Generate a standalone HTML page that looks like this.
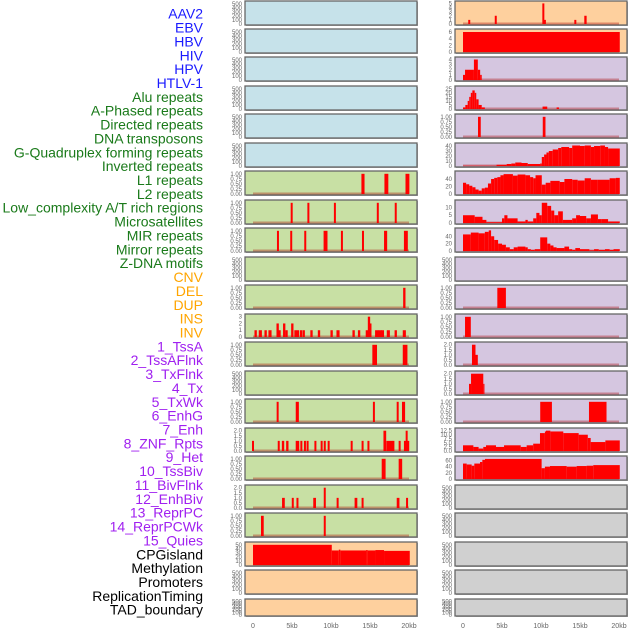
<!DOCTYPE html>
<html><head><meta charset="utf-8">
<style>
html,body{margin:0;padding:0;background:#fff;}
svg{display:block;font-family:"Liberation Sans",sans-serif;}
</style></head>
<body>
<svg id="chart" width="630" height="630" viewBox="0 0 630 630" xmlns="http://www.w3.org/2000/svg"></svg>
<script>
// ---------- data ----------
const rowLabels = ["AAV2","EBV","HBV","HIV","HPV","HTLV-1","Alu repeats","A-Phased repeats","Directed repeats","DNA transposons","G-Quadruplex forming repeats","Inverted repeats","L1 repeats","L2 repeats","Low_complexity A/T rich regions","Microsatellites","MIR repeats","Mirror repeats","Z-DNA motifs","CNV","DEL","DUP","INS","INV","1_TssA","2_TssAFlnk","3_TxFlnk","4_Tx","5_TxWk","6_EnhG","7_Enh","8_ZNF_Rpts","9_Het","10_TssBiv","11_BivFlnk","12_EnhBiv","13_ReprPC","14_ReprPCWk","15_Quies","CPGisland","Methylation","Promoters","ReplicationTiming","TAD_boundary"];
const labelGroups = [6,13,5,15,5]; // virus, repeats, sv, chromatin, other
const groupColors = ["#1a1aff","#1a7a1a","#ffa500","#a020f0","#000000"];
const xTickKb = [0,5,10,15,20];
const xTickLabels = ["0","5kb","10kb","15kb","20kb"];

// spikes: [centerKb, widthKb, value]
const leftL1 = [[14.1,0.4,1],[17.1,0.5,1],[19.8,0.5,1]];
const leftRow8 = [[4.96,0.25,1],[7.1,0.25,1],[10.5,0.25,1],[16.0,0.25,1],[18.3,0.25,1]];
const leftRow9 = [[3.2,0.25,1],[4.9,0.25,1],[6.7,0.25,1],[9.3,0.5,1],[11.4,0.25,1],[14.1,0.25,1],[17.0,0.4,1],[19.6,0.5,1]];
const leftRow11 = [[19.4,0.3,1]];
const leftRow12 = [[0.34,0.3,1],[0.94,0.4,1],[1.62,0.3,1],[2.18,0.4,1],[3.16,0.3,2],[3.4,0.3,1],[4.0,0.3,2],[4.3,0.3,1],[5.04,0.3,2],[5.6,0.6,1],[6.15,0.3,1],[6.5,0.3,1],[7.5,0.3,1],[8.46,0.3,1],[10.08,0.3,1],[10.9,0.4,1],[12.9,0.3,1],[13.6,0.3,1],[14.87,0.3,3],[15.04,0.3,2],[14.6,0.3,1],[15.9,0.5,1],[16.3,0.4,1],[16.6,0.4,1],[17.35,0.4,1],[18.3,0.3,1],[19.4,0.4,1]];
const leftRow13 = [[15.6,0.6,1],[19.5,0.6,1]];
const leftRow15 = [[3.16,0.25,1],[5.68,0.4,1],[15.5,0.25,1],[18.55,0.25,1],[19.3,0.4,1]];
const leftRow16 = [[0.0,0.25,1],[3.3,0.25,1],[3.85,0.3,1],[4.4,0.3,1],[5.7,0.45,1],[6.2,0.25,1],[6.66,0.25,1],[7.0,0.25,1],[8.0,0.25,1],[8.8,0.25,1],[9.2,0.25,1],[9.7,0.25,1],[12.65,0.25,1],[14.05,0.25,1],[14.8,0.25,1],[16.9,0.35,2],[17.3,0.4,1],[17.7,0.4,1],[18.0,0.25,1],[18.8,0.25,1],[19.5,0.3,1],[19.7,0.25,2],[19.9,0.25,1]];
const leftRow17 = [[16.75,0.5,1],[18.9,0.45,1]];
const leftRow18 = [[3.9,0.35,1],[5.1,0.25,1],[5.7,0.25,1],[7.9,0.35,1],[9.2,0.25,2],[10.85,0.25,1],[13.2,0.35,1],[14.05,0.25,1],[18.6,0.35,1],[19.75,0.25,1]];
const leftRow19 = [[1.2,0.35,1],[9.2,0.25,1]];
const rightAAV2 = [[0.8,0.25,1],[4.2,0.25,2],[10.3,0.25,5],[10.5,0.25,1],[14.4,0.25,1],[15.7,0.3,2]];
const rightHPV = [[2.1,0.35,1],[10.4,0.35,1]];

// segments: [startKb, endKb, value]
const leftCPG = [[0,10.1,50],[10.1,11.0,36],[11.0,11.2,38],[11.2,14.5,36],[14.5,14.7,37],[14.7,15.7,36],[15.7,16.8,37],[16.8,20.1,35]];
const rightEBV = [[0,20.1,6]];
const rightHBV = [[0,0.26,1],[0.26,1.4,2],[1.4,1.9,4],[1.9,2.2,2],[2.2,2.4,1]];
const rightHIV = [[0,0.3,2],[0.3,0.6,5],[0.6,0.8,10],[0.8,1.0,15],[1.0,1.2,20],[1.2,1.5,23],[1.5,1.7,20],[1.7,2.0,12],[2.0,2.4,5],[2.4,2.8,2],[10.2,10.8,3],[12.0,12.3,2]];
const rightHTLV = [[0,4.3,0.5],[4.3,5.6,2.5],[5.6,6.2,4],[6.2,6.7,5],[6.7,7.5,7],[7.5,8.3,6],[8.3,9.9,4],[9.9,10.1,5],[10.1,10.4,18],[10.4,10.7,23],[10.7,11.0,27],[11.0,11.5,30],[11.5,12.2,33],[12.2,12.6,36],[12.6,13.6,38],[13.6,14.0,36],[14.0,15.0,41],[15.0,15.6,40],[15.6,16.4,41],[16.4,16.8,38],[16.8,17.6,40],[17.6,18.2,41],[18.2,18.6,38],[18.6,20.1,35]];
const rightRow7 = [[0,0.4,30],[0.4,0.8,26],[0.8,1.2,22],[1.2,1.6,18],[1.6,2.0,12],[2.0,2.4,9],[2.4,2.8,15],[2.8,3.2,17],[3.2,3.6,28],[3.6,4.0,40],[4.0,4.4,43],[4.4,4.8,45],[4.8,5.2,50],[5.2,6.4,53],[6.4,7.0,49],[7.0,8.0,52],[8.0,8.6,50],[8.6,9.0,45],[9.0,9.3,42],[9.3,10.1,50],[10.1,10.6,25],[10.6,11.2,30],[11.2,12.4,35],[12.4,13.0,32],[13.0,14.0,40],[14.0,14.7,38],[14.7,15.6,36],[15.6,16.4,42],[16.4,17.2,38],[17.2,18.8,38],[18.8,19.6,42],[19.6,20.1,43]];
const rightRow8 = [[0,1.5,5],[1.5,2.5,4],[2.5,3.0,2],[3.0,5.0,0.5],[5.0,5.3,3],[5.3,5.7,5],[5.7,7.0,3],[7.0,8.0,1],[8.0,8.3,2],[8.3,9.0,1],[9.0,9.4,3],[9.4,9.8,6.5],[9.8,10.1,5],[10.1,10.8,13],[10.8,11.3,11],[11.3,11.7,8],[11.7,12.2,5],[12.2,12.8,7.5],[12.8,14.0,2],[14.0,14.5,3],[14.5,15.0,5],[15.0,15.8,4.5],[15.8,16.4,3],[16.4,17.3,5.5],[17.3,17.8,2.5],[17.8,18.6,2.5],[18.6,20.1,1]];
const rightRow9 = [[0,1.0,45],[1.0,2.0,50],[2.0,2.8,48],[2.8,3.3,52],[3.3,3.6,56],[3.6,4.0,40],[4.0,4.5,30],[4.5,5.0,20],[5.0,5.5,17],[5.5,6.0,10],[6.0,6.5,5],[6.5,7.0,10],[7.0,8.0,12],[8.0,8.3,10],[8.3,8.7,5],[8.7,9.2,3],[9.2,9.9,5],[9.9,10.8,37],[10.8,11.2,20],[11.2,11.6,15],[11.6,12.0,10],[12.0,13.0,8],[13.0,13.6,12],[13.6,14.0,5],[14.0,14.4,3],[14.4,15.0,8],[15.0,16.2,5],[16.2,16.8,2],[16.8,17.4,5],[17.4,18.2,3],[18.2,18.8,5],[18.8,19.3,3],[19.3,20.1,5]];
const rightRow11 = [[4.4,5.5,1]];
const rightRow12 = [[0.26,1.0,1]];
const rightRow13 = [[1.15,1.6,2],[1.6,1.9,1]];
const rightRow14 = [[0.77,1.03,1],[1.03,2.6,2],[2.6,2.75,1]];
const rightRow15 = [[9.9,11.4,1],[16.15,18.4,1]];
const rightRow16 = [[0,1.33,3.5],[1.33,2.0,2.5],[2.0,2.6,1.5],[2.6,2.95,2.5],[2.95,4.23,3.5],[4.23,5.26,2.5],[5.26,7.4,3.5],[7.4,8.16,2.5],[8.16,9.0,3.5],[9.0,9.87,4.5],[9.87,10.5,11],[10.5,10.64,12],[10.64,11.2,12.5],[11.2,12.86,12],[12.86,14.83,11],[14.83,16.0,10],[16.0,16.37,8],[16.37,18.25,5.5],[18.25,20.1,6.5]];
const rightRow17 = [[0,0.47,50],[0.47,1.11,47],[1.11,1.45,43],[1.45,2.18,50],[2.18,2.48,55],[2.48,2.82,62],[2.82,10.08,65],[10.08,10.5,35],[10.5,11.15,40],[11.15,13.29,42],[13.29,14.57,40],[14.57,15.85,42],[15.85,16.7,43],[16.7,20.1,45]];

// tick sets
const ticksEmpty = [0,100,200,300,400,500];
const ticksUnit = [0,0.25,0.5,0.75,1];
const ticks3 = [0,1,2,3];
const ticks2 = [0,0.5,1,1.5,2];
const ticks50 = [0,10,20,30,40,50];
const ticks5 = [0,1,2,3,4,5];
const ticks6 = [0,2,4,6];
const ticks4 = [0,1,2,3,4];
const ticks25 = [0,5,10,15,20,25];
const ticks40 = [0,10,20,30,40];
const ticks4060 = [0,20,40];
const ticks10 = [0,5,10];
const ticks125 = [0,2.5,5,7.5,10,12.5];
const ticks60 = [0,20,40,60];

const BLUE="#c6e2ea", GREEN="#c8e0a4", PEACH="#fed09e", LAV="#d5c6e0", GREY="#d0d0d0";
const panelTops = [1,29,57,86,114,143,171,200,228,257,285,314,342,371,399,428,456,485,513,542,570,599];

// [col,row,bg,max,ticks,decimals,spikes,segs,name]
const panels = [
 [0,0,BLUE,520,ticksEmpty,0,null,null,"aav2-left"],
 [0,1,BLUE,520,ticksEmpty,0,null,null,"ebv-left"],
 [0,2,BLUE,520,ticksEmpty,0,null,null,"hbv-left"],
 [0,3,BLUE,520,ticksEmpty,0,null,null,"hiv-left"],
 [0,4,BLUE,520,ticksEmpty,0,null,null,"hpv-left"],
 [0,5,BLUE,520,ticksEmpty,0,null,null,"htlv-left"],
 [0,6,GREEN,1.04,ticksUnit,2,leftL1,null,"track-7-left"],
 [0,7,GREEN,1.04,ticksUnit,2,leftRow8,null,"track-8-left"],
 [0,8,GREEN,1.04,ticksUnit,2,leftRow9,null,"track-9-left"],
 [0,9,GREEN,520,ticksEmpty,0,null,null,"track-10-left"],
 [0,10,GREEN,1.04,ticksUnit,2,leftRow11,null,"track-11-left"],
 [0,11,GREEN,3.1,ticks3,0,leftRow12,null,"track-12-left"],
 [0,12,GREEN,1.04,ticksUnit,2,leftRow13,null,"track-13-left"],
 [0,13,GREEN,520,ticksEmpty,0,null,null,"track-14-left"],
 [0,14,GREEN,1.04,ticksUnit,2,leftRow15,null,"track-15-left"],
 [0,15,GREEN,2.07,ticks2,1,leftRow16,null,"track-16-left"],
 [0,16,GREEN,1.04,ticksUnit,2,leftRow17,null,"track-17-left"],
 [0,17,GREEN,2.07,ticks2,1,leftRow18,null,"track-18-left"],
 [0,18,GREEN,1.04,ticksUnit,2,leftRow19,null,"track-19-left"],
 [0,19,PEACH,52,ticks50,0,null,leftCPG,"cpg-left"],
 [0,20,PEACH,520,ticksEmpty,0,null,null,"track-21-left"],
 [0,21,PEACH,520,ticksEmpty,0,null,null,"track-22-left"],
 [1,0,PEACH,5.1,ticks5,0,rightAAV2,null,"aav2-right"],
 [1,1,PEACH,6.3,ticks6,0,null,rightEBV,"ebv-right"],
 [1,2,LAV,4.1,ticks4,0,null,rightHBV,"hbv-right"],
 [1,3,LAV,26,ticks25,0,null,rightHIV,"hiv-right"],
 [1,4,LAV,1.04,ticksUnit,2,rightHPV,null,"hpv-right"],
 [1,5,LAV,42,ticks40,0,null,rightHTLV,"htlv-right"],
 [1,6,LAV,56,ticks4060,0,null,rightRow7,"track-7-right"],
 [1,7,LAV,13.5,ticks10,0,null,rightRow8,"track-8-right"],
 [1,8,LAV,57,ticks4060,0,null,rightRow9,"track-9-right"],
 [1,9,LAV,520,ticksEmpty,0,null,null,"track-10-right"],
 [1,10,LAV,1.04,ticksUnit,2,null,rightRow11,"track-11-right"],
 [1,11,LAV,1.04,ticksUnit,2,null,rightRow12,"track-12-right"],
 [1,12,LAV,2.07,ticks2,1,null,rightRow13,"track-13-right"],
 [1,13,LAV,2.07,ticks2,1,null,rightRow14,"track-14-right"],
 [1,14,LAV,1.04,ticksUnit,2,null,rightRow15,"track-15-right"],
 [1,15,LAV,12.9,ticks125,1,null,rightRow16,"track-16-right"],
 [1,16,LAV,68,ticks60,0,null,rightRow17,"track-17-right"],
 [1,17,GREY,520,ticksEmpty,0,null,null,"track-18-right"],
 [1,18,GREY,520,ticksEmpty,0,null,null,"track-19-right"],
 [1,19,GREY,520,ticksEmpty,0,null,null,"track-20-right"],
 [1,20,GREY,520,ticksEmpty,0,null,null,"track-21-right"],
 [1,21,GREY,520,ticksEmpty,0,null,null,"track-22-right"]
];

// ---------- drawing ----------
const NS="http://www.w3.org/2000/svg";
const svg=document.getElementById("chart");
function mk(tag,attrs,parent){const e=document.createElementNS(NS,tag);for(const k in attrs)e.setAttribute(k,attrs[k]);(parent||svg).appendChild(e);return e;}
const PANEL_X=[245,455], PANEL_W=172, X0=[253,463], PXK=7.8;
function panelH(row){return row===21?17:24;}
function xScale(col,kb){return X0[col]+kb*PXK;}
function yScale(row,max,v){const top=panelTops[row]+2, bot=panelTops[row]+panelH(row)-1;return bot-(v/max)*(bot-top);}

// labels
let li=0;
const LY0=15, LDY=(611-15)/43;
labelGroups.forEach((n,g)=>{for(let k=0;k<n;k++){const t=mk("text",{x:203,y:LY0+li*LDY,"text-anchor":"end","dominant-baseline":"middle","font-size":"14",fill:groupColors[g]});
t.textContent=rowLabels[li];


li++;}});

panels.forEach(p=>{
 const [col,row,bg,max,ticks,dec,spikes,segs,name]=p;
 const g=mk("g",{});
 
 
 const top=panelTops[row], h=panelH(row);
 mk("rect",{x:PANEL_X[col]+1,y:top+1,width:PANEL_W,height:h,fill:"#aaa"},g);
 mk("rect",{x:PANEL_X[col],y:top,width:PANEL_W,height:h,fill:bg,stroke:"#666","stroke-width":1.3},g);
 ticks.forEach(tv=>{const t=mk("text",{x:PANEL_X[col]-3,y:yScale(row,max,tv)+2,"text-anchor":"end","font-size":"6",fill:"#666"},g);
  t.textContent=tv.toFixed(dec);
  
  });
 const y0=yScale(row,max,0);
 if(spikes||segs){
  const bl=mk("rect",{x:xScale(col,0),y:y0-1.5,width:xScale(col,20)-xScale(col,0),height:2,fill:"rgba(170,0,0,0.35)"},g);
  
  
 }
 if(segs)segs.forEach(s=>{const x1=xScale(col,s[0]),x2=xScale(col,s[1]),y=yScale(row,max,s[2]);
  const r=mk("rect",{x:x1,y:y,width:Math.max(1,x2-x1),height:y0-y,fill:"#ff0000"},g);
  
  });
 if(spikes)spikes.forEach(s=>{const w=Math.max(2,s[1]*PXK);const x=xScale(col,s[0])-w/2,y=yScale(row,max,s[2]);
  const r=mk("rect",{x:x,y:y,width:w,height:y0-y,fill:"#ff0000"},g);
  
  });
});

// x axes
[0,1].forEach(col=>{xTickKb.forEach((kb,i)=>{const t=mk("text",{x:xScale(col,kb),y:628,"text-anchor":"middle","font-size":"7",fill:"#666"});
 t.textContent=xTickLabels[i];
 
 });});
</script>
</body></html>
